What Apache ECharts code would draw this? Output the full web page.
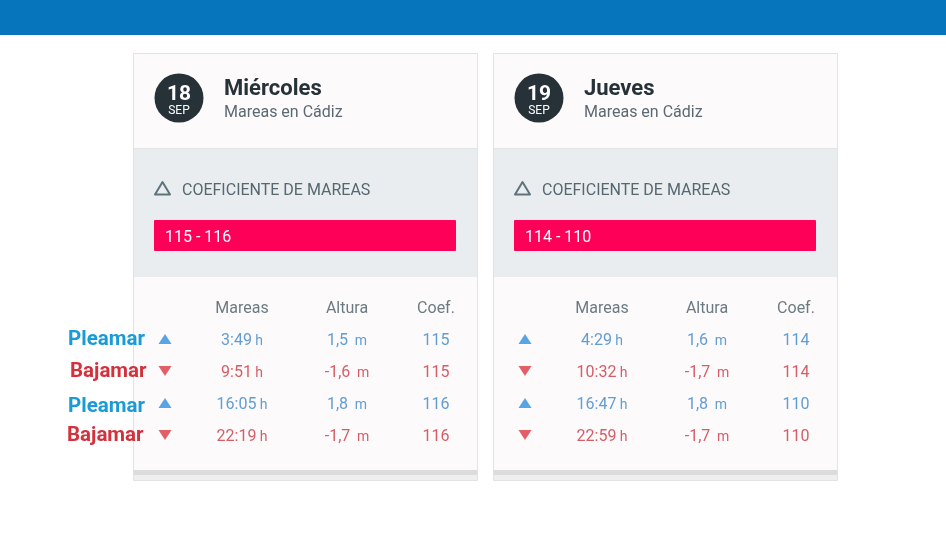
<!DOCTYPE html>
<html><head><meta charset="utf-8">
<script src="https://cdn.jsdelivr.net/npm/echarts@6/dist/echarts.min.js"></script>
<style>html,body{margin:0;padding:0;background:#fff}#c{width:946px;height:539px}</style>
</head><body><div id="c"></div>
<script>
// ---- data ----
const dayNames = ['Miércoles', 'Jueves'];
const dayNumbers = ['18', '19'];
const monthLabel = 'SEP';
const subtitle = 'Mareas en Cádiz';
const coefTitle = 'COEFICIENTE DE MAREAS';
const coefRanges = ['115 - 116', '114 - 110'];
const columnHeaders = ['Mareas', 'Altura', 'Coef.'];
const tideTypes = ['Pleamar', 'Bajamar', 'Pleamar', 'Bajamar'];
const tideTimesWed = ['3:49', '9:51', '16:05', '22:19'];
const tideHeightsWed = [1.5, -1.6, 1.8, -1.7];
const tideCoefsWed = [115, 115, 116, 116];
const tideTimesThu = ['4:29', '10:32', '16:47', '22:59'];
const tideHeightsThu = [1.6, -1.7, 1.8, -1.7];
const tideCoefsThu = [114, 114, 110, 110];

// ---- layout ----
const FONT = 'Roboto';
const CARD_X = [133, 493], CARD_W = 344, CARD_TOP = 53, CARD_BOTTOM = 480;
const COL_X = [32, 109, 214, 303];
const BLUE_TXT = '#3b86c9', RED_TXT = '#cc3540', BLUE_MK = '#2f8fe0', RED_MK = '#d93a44';
const DY = 2; // text baseline nudge
const days = [
  {times: tideTimesWed, heights: tideHeightsWed, coefs: tideCoefsWed},
  {times: tideTimesThu, heights: tideHeightsThu, coefs: tideCoefsThu}
];
const isHigh = t => t === 'Pleamar';
const fmtH = v => String(v).replace('.', ',');

const graphic = [];
graphic.push({type: 'rect', shape: {x: 0, y: 0, width: 946, height: 35}, style: {fill: '#0775bb'}, z: 0});
CARD_X.forEach((cx, i) => {
  graphic.push({type: 'rect', shape: {x: cx + 0.5, y: CARD_TOP + 0.5, width: CARD_W, height: CARD_BOTTOM - CARD_TOP}, style: {fill: '#fcfafb', stroke: '#e3e3e3', lineWidth: 1}, z: 0});
  graphic.push({type: 'rect', shape: {x: cx + 1, y: 148, width: CARD_W - 1, height: 129}, style: {fill: '#e9edf0'}, z: 1});
  graphic.push({type: 'line', shape: {x1: cx + 1, y1: 148.5, x2: cx + CARD_W, y2: 148.5}, style: {stroke: '#e2e4e6', lineWidth: 1}, z: 1});
  graphic.push({type: 'rect', shape: {x: cx + 1, y: 470, width: CARD_W - 1, height: 5}, style: {fill: '#dcdcdc'}, z: 1});
  graphic.push({type: 'rect', shape: {x: cx + 1, y: 475, width: CARD_W - 1, height: 5}, style: {fill: '#efefef'}, z: 1});
  // date circle
  graphic.push({type: 'circle', shape: {cx: cx + 46, cy: 98, r: 24.5}, style: {fill: '#263238'}, z: 2});
  graphic.push({type: 'text', x: cx + 46, y: 92.5 + DY, style: {text: dayNumbers[i], font: 'bold 21px ' + FONT, fill: '#fff', align: 'center', verticalAlign: 'middle'}, z: 3});
  graphic.push({type: 'text', x: cx + 46, y: 109 + DY, style: {text: monthLabel, font: '12px ' + FONT, fill: '#fff', align: 'center', verticalAlign: 'middle'}, z: 3});
  graphic.push({type: 'text', x: cx + 91, y: 87 + DY, style: {text: dayNames[i], font: 'bold 22px ' + FONT, fill: '#263238', verticalAlign: 'middle'}, z: 3});
  graphic.push({type: 'text', x: cx + 91, y: 111 + DY, style: {text: subtitle, font: '16px ' + FONT, fill: '#5b6a72', verticalAlign: 'middle'}, z: 3});
  // coef section
  graphic.push({type: 'polygon', shape: {points: [[cx + 29.5, 182], [cx + 37, 194.5], [cx + 22, 194.5]]}, style: {fill: 'none', stroke: '#5f737d', lineWidth: 2, lineJoin: 'round'}, z: 3});
  graphic.push({type: 'text', x: cx + 49, y: 189 + DY, style: {text: coefTitle, font: '16px ' + FONT, fill: '#56676f', verticalAlign: 'middle'}, z: 3});
  graphic.push({type: 'rect', shape: {x: cx + 21, y: 220, width: 302, height: 31, r: 1}, style: {fill: '#ff0059'}, z: 3});
  graphic.push({type: 'text', x: cx + 32, y: 236 + DY, style: {text: coefRanges[i], font: '16px ' + FONT, fill: '#fff', verticalAlign: 'middle'}, z: 4});
  // headers
  columnHeaders.forEach((h, k) => {
    graphic.push({type: 'text', x: cx + COL_X[k + 1], y: 307 + DY, style: {text: h, font: '16px ' + FONT, fill: '#6c7b83', align: 'center', verticalAlign: 'middle'}, z: 3});
  });
});
// left tide labels
const LEFT_LABEL_X = [68, 70, 68, 67];
const LEFT_LABEL_Y = [338, 370, 405, 434];
tideTypes.forEach((t, j) => {
  graphic.push({type: 'text', x: LEFT_LABEL_X[j], y: LEFT_LABEL_Y[j] + DY, style: {text: t, font: 'bold 20.5px ' + FONT, fill: isHigh(t) ? '#1a9ad7' : '#d3313c', verticalAlign: 'middle'}, z: 20});
});

const grids = [], xAxes = [], yAxes = [], series = [];
CARD_X.forEach((cx, i) => {
  grids.push({left: cx, top: 291, width: CARD_W, height: 160});
  xAxes.push({type: 'value', gridIndex: i, min: 0, max: CARD_W, show: false});
  yAxes.push({type: 'category', gridIndex: i, data: ['h', 'r1', 'r2', 'r3', 'r4'], inverse: true, show: false});
  const d = days[i];
  series.push({
    type: 'scatter', xAxisIndex: i, yAxisIndex: i, z: 5, silent: true,
    data: tideTypes.map((t, j) => ({
      value: [COL_X[0], j + 1],
      symbol: 'triangle', symbolRotate: isHigh(t) ? 0 : 180, symbolSize: [13, 10],
      itemStyle: {color: isHigh(t) ? BLUE_MK : RED_MK}
    }))
  });
  const cols = [
    {k: 1, f: j => '{n|' + d.times[j] + '} {u|h}'},
    {k: 2, f: j => '{n|' + fmtH(d.heights[j]) + '}  {u|m}'},
    {k: 3, f: j => '{n|' + d.coefs[j] + '}'}
  ];
  cols.forEach(c => {
    series.push({
      type: 'scatter', xAxisIndex: i, yAxisIndex: i, z: 5, silent: true, symbolSize: 0,
      data: tideTypes.map((t, j) => {
        const col = isHigh(t) ? BLUE_TXT : RED_TXT;
        return {
          value: [COL_X[c.k], j + 1],
          label: {
            show: true, position: 'inside', offset: [0, DY], formatter: c.f(j),
            rich: {n: {fontFamily: FONT, fontSize: 16, color: col}, u: {fontFamily: FONT, fontSize: 14, color: col}}
          }
        };
      })
    });
  });
});

const chart = echarts.init(document.getElementById('c'), null, {renderer: 'canvas'});
chart.setOption({
  animation: false,
  backgroundColor: '#ffffff',
  grid: grids, xAxis: xAxes, yAxis: yAxes, series: series,
  graphic: graphic
});
</script>
</body></html>
